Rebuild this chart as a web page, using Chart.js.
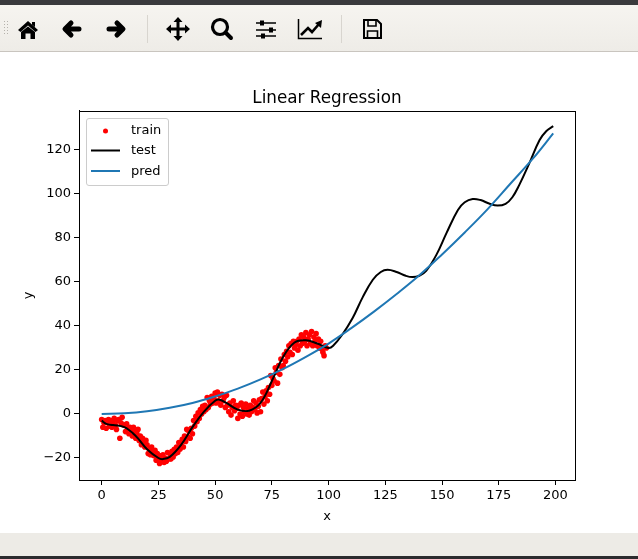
<!DOCTYPE html>
<html><head><meta charset="utf-8">
<script src="https://cdn.jsdelivr.net/npm/chart.js@4"></script>
<style>
html,body{margin:0;padding:0;background:#fff;overflow:hidden;width:638px;height:559px;font-family:"DejaVu Sans",sans-serif}
#top{position:absolute;left:0;top:0;width:638px;height:5px;background:#3a3a3d}
#bar{position:absolute;left:0;top:5px;width:638px;height:46px;background:linear-gradient(#f6f4f0,#eeece7);border-bottom:1px solid #c9c5bf}
#bar svg{position:absolute;left:0;top:0}
#wrap{position:absolute;left:0;top:52px;width:638px;height:481px}
#low{position:absolute;left:0;top:533px;width:638px;height:23px;background:#edebe6}
#bot{position:absolute;left:0;top:556px;width:638px;height:3px;background:#2b2b2d}
#leg{position:absolute;left:86px;top:118px;width:81px;height:66px;background:rgba(255,255,255,.85);border:1px solid #ccc;border-radius:3px;font-size:13px;color:#000}
#leg div{position:absolute;left:44px;line-height:16px;white-space:nowrap}
#leg svg{position:absolute;left:0;top:0}
</style></head><body>
<div id="top"></div>
<div id="bar">
<svg width="638" height="46" viewBox="0 5 638 46">
<g fill="#b5b2ac"><rect x="4" y="21" width="1" height="1"/><rect x="7" y="21" width="1" height="1"/><rect x="4" y="24" width="1" height="1"/><rect x="7" y="24" width="1" height="1"/><rect x="4" y="27" width="1" height="1"/><rect x="7" y="27" width="1" height="1"/><rect x="4" y="30" width="1" height="1"/><rect x="7" y="30" width="1" height="1"/><rect x="4" y="33" width="1" height="1"/><rect x="7" y="33" width="1" height="1"/></g>
<path d="M18 30 L28 21 L38 30 L35.5 32 L28 25.5 L20.5 32Z M21 32 L28 26.5 L35 32 V39 H30.5 V33.5 H25.5 V39 H21Z M32 22 h3 v5 l-3 -2.5Z" fill="#000"/>
<path d="M79 29 H67 M71 23 L65 29 L71 35" fill="none" stroke="#000" stroke-width="5" stroke-linecap="round" stroke-linejoin="round"/>
<path d="M109 29 H121 M117 23 L123 29 L117 35" fill="none" stroke="#000" stroke-width="5" stroke-linecap="round" stroke-linejoin="round"/>
<rect x="147" y="15" width="1" height="28" fill="#d8d5cf"/>
<path d="M178 20 V38 M169 29 H187" stroke="#000" stroke-width="3" fill="none"/>
<path d="M178 17 L182.5 22 H173.5Z M178 41 L182.5 36 H173.5Z M166 29 L171 24.5 V33.5Z M190 29 L185 24.5 V33.5Z" fill="#000"/>
<circle cx="220" cy="27" r="7.5" fill="none" stroke="#000" stroke-width="3.2"/>
<path d="M225.5 32.5 L231 38" stroke="#000" stroke-width="4" stroke-linecap="round"/>
<path d="M256 23 H276 M256 30 H276 M256 36 H276" stroke="#000" stroke-width="1.5"/>
<rect x="260" y="20.5" width="4" height="5" fill="#000"/><rect x="269" y="27.5" width="4" height="5" fill="#000"/><rect x="261" y="33.5" width="4" height="5" fill="#000"/>
<path d="M298.5 19 V38.5 H322" fill="none" stroke="#000" stroke-width="1.5"/>
<path d="M301 35 L308 28 L312 32 L319 24" fill="none" stroke="#000" stroke-width="2.6"/>
<path d="M322 20 L321 28 L315 23Z" fill="#000"/>
<rect x="341" y="15" width="1" height="28" fill="#d8d5cf"/>
<path d="M364 20 H377 L381 24 V38 H364Z" fill="none" stroke="#000" stroke-width="2"/>
<path d="M368 20 V26 H376 V20 M367.5 38 V31 H377.5 V38" fill="none" stroke="#000" stroke-width="1.6"/>
</svg>
</div>
<div id="wrap"><canvas id="c" width="638" height="481"></canvas></div>
<div id="low"></div>
<div id="bot"></div>
<div id="leg">
<svg width="81" height="66">
<circle cx="18.5" cy="12" r="2.5" fill="#ff0000"/>
<line x1="4" y1="31.5" x2="33" y2="31.5" stroke="#000" stroke-width="2"/>
<line x1="4" y1="52" x2="33" y2="52" stroke="#1f77b4" stroke-width="2"/>
</svg>
<div style="top:3px">train</div><div style="top:23px">test</div><div style="top:44px">pred</div>
</div>
<script>
const chartTitle = "Linear Regression";
const xTitle = "x";
const yTitle = "y";
const xTicks = [0,25,50,75,100,125,150,175,200];
const yTicks = [-20,0,20,40,60,80,100,120];
const trainX = [0,.5,1,1.5,2,2.5,3,3.5,4,4.5,5,5.5,6,6.5,7,7.5,8,8.5,9,9.5,
10,10.5,11,11.5,12,12.5,13,13.5,14,14.5,15,15.5,16,16.5,17,17.5,18,18.5,19,19.5,
20,20.5,21,21.5,22,22.5,23,23.5,24,24.5,25,25.5,26,26.5,27,27.5,28,28.5,29,29.5,
30,30.5,31,31.5,32,32.5,33,33.5,34,34.5,35,35.5,36,36.5,37,37.5,38,38.5,39,39.5,
40,40.5,41,41.5,42,42.5,43,43.5,44,44.5,45,45.5,46,46.5,47,47.5,48,48.5,49,49.5,
50,50.5,51,51.5,52,52.5,53,53.5,54,54.5,55,55.5,56,56.5,57,57.5,58,58.5,59,59.5,
60,60.5,61,61.5,62,62.5,63,63.5,64,64.5,65,65.5,66,66.5,67,67.5,68,68.5,69,69.5,
70,70.5,71,71.5,72,72.5,73,73.5,74,74.5,75,75.5,76,76.5,77,77.5,78,78.5,79,79.5,
80,80.5,81,81.5,82,82.5,83,83.5,84,84.5,85,85.5,86,86.5,87,87.5,88,88.5,89,89.5,
90,90.5,91,91.5,92,92.5,93,93.5,94,94.5,95,95.5,96,96.5,97,97.5,98,98.5,99];
const trainY = [-2.5,-6,-4,-3,-6.5,-3.5,-2.5,-5.5,-3,-6,-4,-2,-5,-7,-3,-2.5,-11,-4,-1.5,-5,
-5,-8,-4.5,-6.5,-9,-6,-7.5,-10,-6,-8,-11,-9,-7,-12,-10,-14,-11,-13,-15,-12,
-14,-18,-16,-18.5,-15,-17,-19,-16.5,-21,-18,-20,-22.5,-19,-21,-18.5,-22,-20,-21.5,-17.5,-20.5,
-18,-20.5,-17,-19.5,-16,-18,-15,-17.5,-13,-16,-14,-11.5,-15,-10,-12.5,-7,-10.5,-8,-11,-6.5,
-9,-3,-5.5,-1,-3.5,.5,-2,2,0,3.5,1,4,2,7.5,3,6,4.5,8,5,7,
9.5,5,10,6,8.5,4,9,6,7.5,3,8.5,4,1,5,-.5,3,6,1.5,4,2.5,
-2,4,0,5,-1,3,1,4.5,0,2.5,-.5,4,1,3,6,2,5,.5,3.5,6.5,
1,7,10,4.5,8,10.5,6,12,9,17.5,13,16,15,21,19,14,22,18,25,21,
22,27,24,28.5,26,31,28,32,27,33,30,31.5,33,29,34,31,36,32,35,33,
37,31,34,36,32,37.5,31,35,33,36.5,31,34,30,33,29.5,28,26.5,31,30];
const testX = [0,2,5,10,15,20,25,27,30,35,40,45,50,52,55,60,65,70,75,80,85,90,95,100,102,106,110.6,115,119.5,123,126,130,134,137,140,143,147.5,152,157,160,163.5,167,171,174.5,178,181,184,188.5,193,196,199];
const testY = [-3,-4.5,-5,-6,-10,-16,-20,-20.5,-19.5,-14,-6,1,6,6.5,5,2,1.5,5,15,26,32.5,33.5,32,30,31,36,43.6,53,61,64.5,65.5,64.5,62.8,62.2,62.8,65,72.3,82.3,92.7,96.2,97.7,97.2,95.5,94.7,95.5,98.5,104,114,124.5,128.6,130.8];
const predX = [0,10,20,30,40,50,60,70,80,90,100,110,120,130,140,150,160,170,180,190,199];
const predY = [0,.3,1.2,2.8,5,8,11.5,15.7,20.5,26,32,39,46.5,54.5,63,72.5,82.5,93,104.5,116,127.5];
const pairs = (xs, ys) => xs.map((x, i) => ({x, y: ys[i]}));
const frame = {id:'frame',
  afterLayout(ch){const a=ch.chartArea,t=ch.titleBlock;t.left=a.left;t.right=a.right;},
  afterDatasetsDraw(ch){const a=ch.chartArea,g=ch.ctx;g.save();g.strokeStyle='#000';g.lineWidth=1;g.strokeRect(Math.round(a.left)+.5,Math.round(a.top)+.5,Math.round(a.right-a.left),Math.round(a.bottom-a.top));g.restore();}};
const fmt = v => String(v).replace('-', '\u2212');
Chart.defaults.font.family = '"DejaVu Sans"';
Chart.defaults.color = '#000';
new Chart(document.getElementById('c'), {
  type: 'scatter',
  data: {datasets: [
    {label:'train', data:pairs(trainX,trainY), showLine:false, pointRadius:2.8, pointBackgroundColor:'#ff0000', pointBorderWidth:0, order:3},
    {label:'test', data:pairs(testX,testY), showLine:true, borderColor:'#000', borderWidth:2, pointRadius:0, tension:0.4, order:2},
    {label:'pred', data:pairs(predX,predY), showLine:true, borderColor:'#1f77b4', borderWidth:2, pointRadius:0, tension:0.4, order:1}
  ]},
  options: {
    responsive:false, animation:false, events:[],
    layout:{padding:{left:0,right:63,top:0,bottom:0}},
    plugins:{legend:{display:false}, tooltip:{enabled:false},
      title:{display:true,text:chartTitle,color:'#000',font:{size:16.8,weight:'normal'},padding:{top:37,bottom:1.8}}},
    scales:{
      x:{type:'linear',min:-10,max:208.6,
        afterBuildTicks:s=>{s.ticks=xTicks.map(value=>({value}));},
        afterFit:s=>{s.height=53;},
        grid:{drawOnChartArea:false,tickLength:5,tickColor:'#000'},border:{color:'#000'},
        ticks:{font:{size:13},padding:3,maxRotation:0,autoSkip:false,callback:fmt},
        title:{display:true,text:xTitle,font:{size:13},padding:{top:5,bottom:9}}},
      y:{type:'linear',min:-30,max:137.7,
        afterBuildTicks:s=>{s.ticks=yTicks.map(value=>({value}));},
        afterFit:s=>{s.width=79;},
        grid:{drawOnChartArea:false,tickLength:5,tickColor:'#000'},border:{color:'#000'},
        ticks:{font:{size:13},padding:3,autoSkip:false,callback:fmt},
        title:{display:true,text:yTitle,font:{size:13},padding:{top:21,bottom:6}}}
    }
  },
  plugins:[frame]
});
</script>
</body></html>
